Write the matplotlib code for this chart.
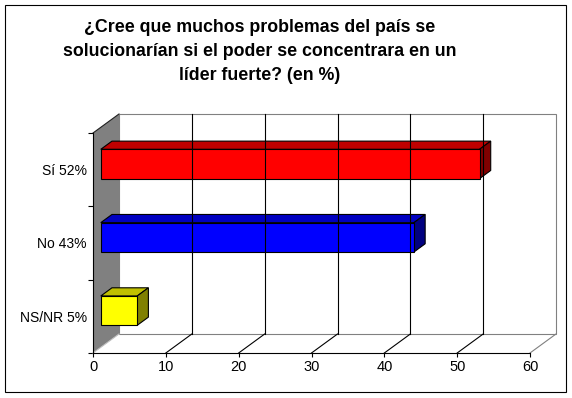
import matplotlib
matplotlib.use("Agg")
import matplotlib.pyplot as plt
from matplotlib.patches import Polygon, Rectangle
from matplotlib.lines import Line2D
from matplotlib.transforms import IdentityTransform

plt.rcParams["font.family"] = ["Liberation Sans", "DejaVu Sans"]

# data
categories = ["Sí 52%", "No 43%", "NS/NR 5%"]
values = [52, 43, 5]
front_colors = ["#ff0000", "#0000ff", "#ffff00"]
top_colors = ["#c00000", "#0000c0", "#c0c000"]
side_colors = ["#800000", "#000080", "#808000"]
xticks = [0, 10, 20, 30, 40, 50, 60]
title = ("¿Cree que muchos problemas del país se\n"
         "solucionarían si el poder se concentrara en un\n"
         "líder fuerte? (en %)")

W, H = 572, 398
DX, DY = 26, 19          # 3d depth offset in pixels
BAR_Z = (0.30, 0.73)     # bar depth span (fraction of depth)
BAR_H = 0.4

fig = plt.figure(figsize=(W / 100, H / 100), dpi=100)
fig.patch.set_facecolor("white")
ax = fig.add_axes([93 / W, 1 - 353 / H, (530 - 93) / W, (353 - 133) / H])
ax.set_xlim(0, 60)
ax.set_ylim(-0.5, len(categories) - 0.5)
ax.patch.set_visible(False)
for s in ax.spines.values():
    s.set_visible(False)

ypos = [len(categories) - 1 - i for i in range(len(categories))]
ax.set_xticks(xticks)
ax.tick_params(axis="x", length=3, width=0.8, pad=2, labelsize=10.5)
ax.set_yticks([i - 0.5 for i in range(len(categories) + 1)])
ax.set_yticklabels([])
ax.set_yticks(ypos, minor=True)
ax.set_yticklabels(categories, minor=True)
ax.tick_params(axis="y", which="major", length=3.5, width=0.8)
ax.tick_params(axis="y", which="minor", length=0, pad=4.5, labelsize=10)

y0, y1 = -0.5, len(categories) - 0.5


def proj(x, y, z):
    px, py = ax.transData.transform((x, y))
    return (px + z * DX, py + z * DY)


def poly(pts, **kw):
    p = Polygon([proj(*q) for q in pts], closed=True,
                transform=IdentityTransform(), **kw)
    fig.add_artist(p)


def line(a, b, **kw):
    pa, pb = proj(*a), proj(*b)
    fig.add_artist(Line2D([pa[0], pb[0]], [pa[1], pb[1]],
                          transform=IdentityTransform(), **kw))


# walls
poly([(0, y0, 0), (0, y1, 0), (0, y1, 1), (0, y0, 1)], fc="#808080", ec="none")
poly([(0, y0, 1), (60, y0, 1), (60, y1, 1), (0, y1, 1)], fc="white", ec="#808080", lw=0.8)

# gridlines on back wall and floor
for t in xticks[1:-1]:
    line((t, y0, 1), (t, y1, 1), color="black", lw=0.8)
for t in xticks[1:]:
    line((t, y0, 0), (t, y0, 1), color="black" if t < 60 else "#808080", lw=0.8)
line((0, y1, 0), (0, y1, 1), color="#202020", lw=0.8)
line((0, y0, 0), (0, y0, 1), color="#c0c0c0", lw=0.8)

# axes lines
line((0, y0, 0), (60, y0, 0), color="black", lw=0.8)
line((0, y0, 0), (0, y1, 0), color="black", lw=0.8)

# 3d bars
z0, z1 = BAR_Z
for y, v, cf, ct, cs in zip(ypos, values, front_colors, top_colors, side_colors):
    b, t = y - BAR_H / 2, y + BAR_H / 2
    poly([(0, t, z0), (v, t, z0), (v, t, z1), (0, t, z1)], fc=ct, ec="black", lw=0.8)
    poly([(v, b, z0), (v, t, z0), (v, t, z1), (v, b, z1)], fc=cs, ec="black", lw=0.8)
    poly([(0, b, z0), (v, b, z0), (v, t, z0), (0, t, z0)], fc=cf, ec="black", lw=0.8)

fig.text(260 / W, 1 - 51.5 / H, title, ha="center", va="center",
         fontsize=12.8, fontweight="bold", linespacing=1.55)

fig.add_artist(Rectangle((5 / W, 1 - 392 / H), 561 / W, 387 / H,
                         transform=fig.transFigure, fill=False, ec="black", lw=0.8))

fig.savefig("out.png", dpi=100)
